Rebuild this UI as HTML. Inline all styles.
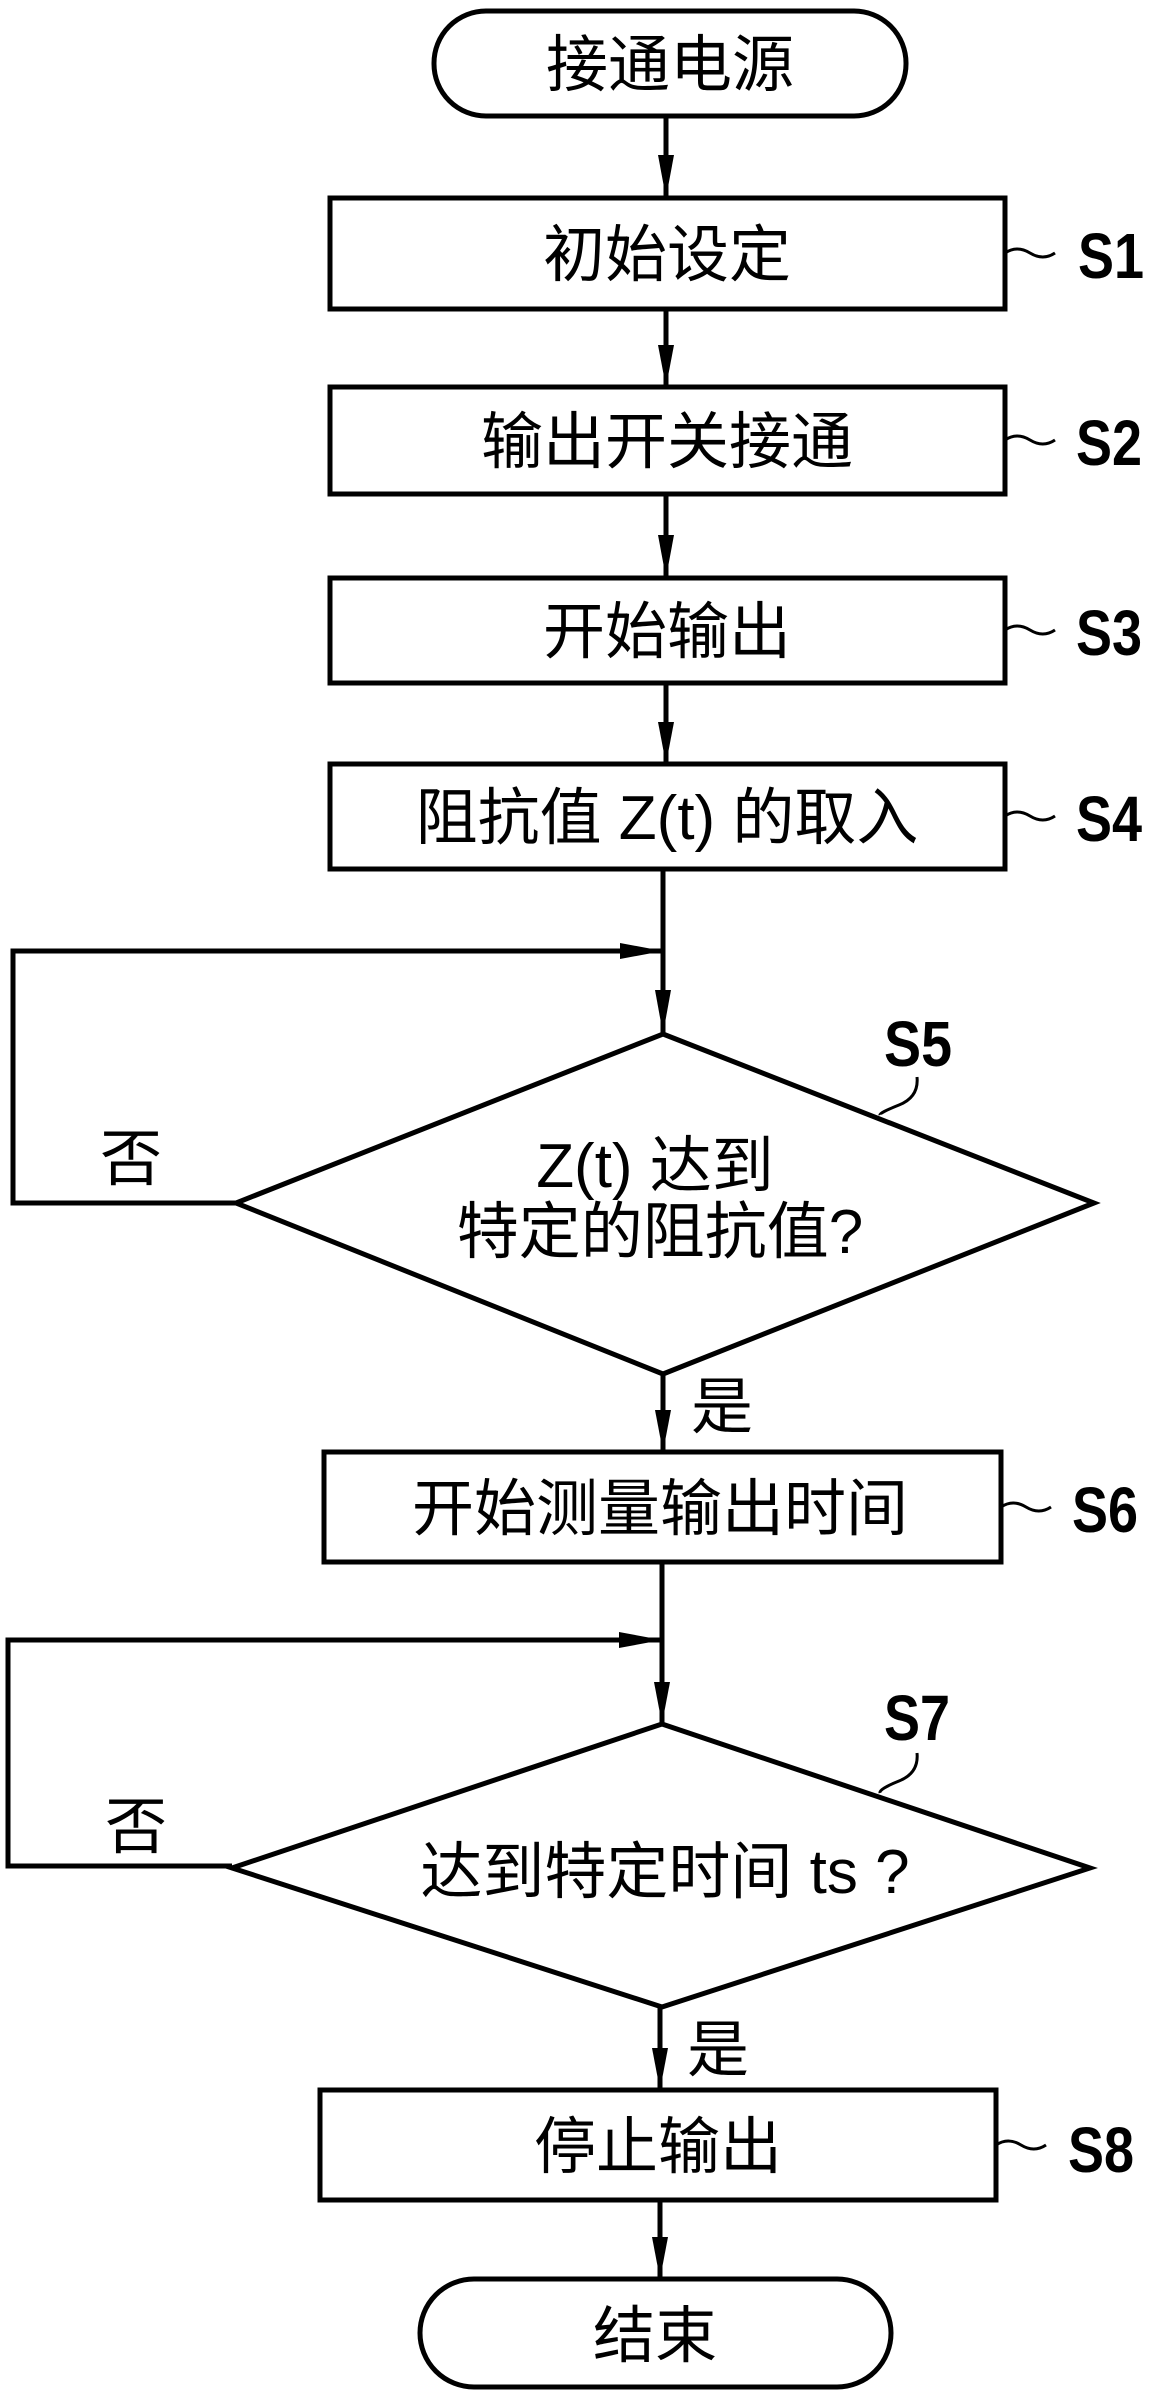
<!DOCTYPE html>
<html><head><meta charset="utf-8"><style>
html,body{margin:0;padding:0;background:#fff;}
svg{display:block;}
.t{font-family:"Liberation Sans","Noto Sans CJK SC",sans-serif;font-size:62px;fill:#000;}
.s{font-family:"Liberation Sans Narrow","Liberation Sans",sans-serif;font-weight:bold;font-size:64px;fill:#000;}
</style></head><body>
<svg width="1149" height="2394" viewBox="0 0 1149 2394" xmlns="http://www.w3.org/2000/svg">
<g stroke="#000" stroke-width="5" fill="none">
<rect x="434" y="11" width="472" height="105" rx="52" ry="52"/>
<rect x="330" y="198" width="675" height="111"/>
<rect x="330" y="387" width="675" height="107"/>
<rect x="330" y="578" width="675" height="105"/>
<rect x="330" y="764" width="675" height="105"/>
<polygon points="663,1034 1094,1203 663,1374 236,1203"/>
<rect x="324" y="1452" width="677" height="110"/>
<polygon points="662,1724 1090,1868 662,2007 232,1868"/>
<rect x="320" y="2090" width="676" height="110"/>
<rect x="420" y="2279" width="471" height="108" rx="54" ry="54"/>
<line x1="666" y1="116" x2="666" y2="198"/>
<line x1="666" y1="309" x2="666" y2="387"/>
<line x1="666" y1="494" x2="666" y2="578"/>
<line x1="666" y1="683" x2="666" y2="764"/>
<line x1="663" y1="869" x2="663" y2="1034"/>
<line x1="663" y1="1374" x2="663" y2="1452"/>
<line x1="662" y1="1562" x2="662" y2="1724"/>
<line x1="660" y1="2007" x2="660" y2="2090"/>
<line x1="660" y1="2200" x2="660" y2="2279"/>
<polyline points="236,1203 13,1203 13,951 663,951"/>
<polyline points="232,1866 8,1866 8,1640 662,1640"/>
<path d="M1005,253 q12,-8 25,0 t25,0" stroke-width="3"/>
<path d="M1005,440 q12,-8 25,0 t25,0" stroke-width="3"/>
<path d="M1005,630 q12,-8 25,0 t25,0" stroke-width="3"/>
<path d="M1005,816 q12,-8 25,0 t25,0" stroke-width="3"/>
<path d="M1001,1507 q12,-8 25,0 t25,0" stroke-width="3"/>
<path d="M996,2145 q12,-8 25,0 t25,0" stroke-width="3"/>
<path d="M917,1077 q2,20 -18,28 t-19,10" stroke-width="3"/>
<path d="M917,1753 q2,20 -18,28 t-19,12" stroke-width="3"/>
</g>
<g fill="#000">
<polygon points="658,155 674,155 666,198"/>
<polygon points="658,345 674,345 666,387"/>
<polygon points="658,535 674,535 666,578"/>
<polygon points="658,722 674,722 666,764"/>
<polygon points="655,990 671,990 663,1034"/>
<polygon points="655,1410 671,1410 663,1452"/>
<polygon points="654,1682 670,1682 662,1724"/>
<polygon points="652,2048 668,2048 660,2090"/>
<polygon points="652,2237 668,2237 660,2279"/>
<polygon points="620,943 620,959 663,951"/>
<polygon points="619,1632 619,1648 662,1640"/>
</g>
<g class="t" text-anchor="middle">
<text x="670" y="86">接通电源</text>
<text x="667" y="276">初始设定</text>
<text x="667" y="463">输出开关接通</text>
<text x="667" y="653">开始输出</text>
<text x="667" y="839">阻抗值 Z(t) 的取入</text>
<text x="655" y="1187">Z(t) 达到</text>
<text x="660" y="1253">特定的阻抗值?</text>
<text x="660" y="1530">开始测量输出时间</text>
<text x="665" y="1893">达到特定时间 ts ?</text>
<text x="658" y="2168">停止输出</text>
<text x="655" y="2357">结束</text>
<text x="722" y="1428">是</text>
<text x="718" y="2071">是</text>
<text x="131" y="1180">否</text>
<text x="136" y="1848">否</text>
</g>
<g class="s">
<text x="1078" y="278" textLength="66" lengthAdjust="spacingAndGlyphs">S1</text>
<text x="1076" y="465" textLength="66" lengthAdjust="spacingAndGlyphs">S2</text>
<text x="1076" y="655" textLength="66" lengthAdjust="spacingAndGlyphs">S3</text>
<text x="1076" y="841" textLength="66" lengthAdjust="spacingAndGlyphs">S4</text>
<text x="884" y="1066" textLength="68" lengthAdjust="spacingAndGlyphs">S5</text>
<text x="1072" y="1532" textLength="66" lengthAdjust="spacingAndGlyphs">S6</text>
<text x="884" y="1740" textLength="66" lengthAdjust="spacingAndGlyphs">S7</text>
<text x="1068" y="2172" textLength="66" lengthAdjust="spacingAndGlyphs">S8</text>
</g>
</svg>
</body></html>
